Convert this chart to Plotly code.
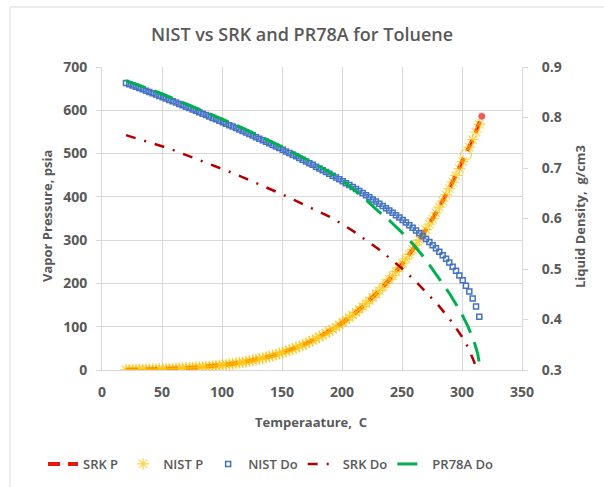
import plotly.graph_objects as go

# NIST saturated data for toluene (5 F steps, shown in C)
NIST_T = [20.0, 22.8, 25.6, 28.3, 31.1, 33.9, 36.7, 39.4, 42.2, 45.0,
          47.8, 50.6, 53.3, 56.1, 58.9, 61.7, 64.4, 67.2, 70.0, 72.8,
          75.6, 78.3, 81.1, 83.9, 86.7, 89.4, 92.2, 95.0, 97.8, 100.6,
          103.3, 106.1, 108.9, 111.7, 114.4, 117.2, 120.0, 122.8, 125.6, 128.3,
          131.1, 133.9, 136.7, 139.4, 142.2, 145.0, 147.8, 150.6, 153.3, 156.1,
          158.9, 161.7, 164.4, 167.2, 170.0, 172.8, 175.6, 178.3, 181.1, 183.9,
          186.7, 189.4, 192.2, 195.0, 197.8, 200.6, 203.3, 206.1, 208.9, 211.7,
          214.4, 217.2, 220.0, 222.8, 225.6, 228.3, 231.1, 233.9, 236.7, 239.4,
          242.2, 245.0, 247.8, 250.6, 253.3, 256.1, 258.9, 261.7, 264.4, 267.2,
          270.0, 272.8, 275.6, 278.3, 281.1, 283.9, 286.7, 289.4, 292.2, 295.0,
          297.8, 300.6, 303.3, 306.1, 308.9, 311.7, 314.4]
NIST_P = [0.59, 0.67, 0.76, 0.86, 0.97, 1.10, 1.23, 1.38, 1.55, 1.73,
          1.93, 2.15, 2.39, 2.65, 2.94, 3.25, 3.59, 3.95, 4.35, 4.78,
          5.24, 5.74, 6.28, 6.86, 7.48, 8.15, 8.86, 9.63, 10.45, 11.33,
          12.26, 13.26, 14.33, 15.46, 16.65, 17.93, 19.29, 20.72, 22.24, 23.84,
          25.54, 27.34, 29.23, 31.22, 33.32, 35.53, 37.86, 40.30, 42.86, 45.56,
          48.39, 51.35, 54.44, 57.69, 61.09, 64.65, 68.37, 72.24, 76.29, 80.5,
          84.9, 89.5, 94.2, 99.2, 104.3, 109.7, 115.3, 121.0, 127.0, 133.2,
          139.7, 146.4, 153.3, 160.4, 167.8, 175.5, 183.4, 191.6, 200.1, 208.8,
          217.8, 227.1, 236.7, 246.6, 256.7, 267.2, 278.0, 289.1, 300.6, 312.4,
          324.5, 337.0, 349.8, 362.9, 376.4, 390.3, 404.5, 419.1, 434.1, 449.4,
          465.2, 481.3, 497.8, 514.7, 532.0, 549.8, 567.8]
NIST_D = [0.8684, 0.8659, 0.8634, 0.8608, 0.8583, 0.8557, 0.8531, 0.8505, 0.8479, 0.8453,
          0.8427, 0.8401, 0.8374, 0.8348, 0.8321, 0.8295, 0.8268, 0.8241, 0.8214, 0.8186,
          0.8159, 0.8132, 0.8104, 0.8076, 0.8048, 0.8020, 0.7992, 0.7964, 0.7935, 0.7907,
          0.7878, 0.7849, 0.7820, 0.7791, 0.7761, 0.7732, 0.7702, 0.7672, 0.7642, 0.7611,
          0.7581, 0.7550, 0.7519, 0.7488, 0.7457, 0.7425, 0.7394, 0.7362, 0.7329, 0.7297,
          0.7264, 0.7231, 0.7198, 0.7164, 0.7130, 0.7096, 0.7062, 0.7027, 0.6992, 0.6957,
          0.6921, 0.6885, 0.6849, 0.6812, 0.6775, 0.6737, 0.6700, 0.6661, 0.6622, 0.6583,
          0.6543, 0.6503, 0.6462, 0.6421, 0.6378, 0.6336, 0.6293, 0.6249, 0.6204, 0.6159,
          0.6113, 0.6066, 0.6018, 0.5969, 0.5919, 0.5868, 0.5816, 0.5762, 0.5708, 0.5651,
          0.5594, 0.5534, 0.5472, 0.5409, 0.5343, 0.5274, 0.5202, 0.5127, 0.5047, 0.4963,
          0.4873, 0.4776, 0.4670, 0.4553, 0.4418, 0.4259, 0.4054]
NIST_HIGHLIGHT = 102  # point drawn with an open circle

# SRK vapour pressure
SRK_T = [20, 30, 40, 50, 60, 70, 80, 90, 100, 110, 120, 130, 140, 150, 160, 170,
         180, 190, 200, 210, 220, 230, 240, 250, 260, 270, 280, 290, 300, 310, 316.5]
SRK_P = [0.59, 0.93, 1.42, 2.11, 3.06, 4.35, 6.06, 8.29, 11.15, 14.77, 19.29, 24.85,
         31.63, 39.8, 49.6, 61.1, 74.6, 90.4, 108.6, 129.5, 153.3, 180.2, 210.6, 244.6,
         282.4, 324.5, 371.0, 422.1, 478.0, 539.0, 586.0]

# SRK liquid density
SRKD_T = [20, 30, 40, 50, 60, 70, 80, 90, 100, 110, 120, 130, 140, 150, 160, 170,
          180, 190, 200, 210, 220, 230, 240, 250, 260, 270, 280, 290, 300, 305, 310, 313]
SRK_D = [0.765, 0.758, 0.751, 0.743, 0.735, 0.726, 0.717, 0.708, 0.699, 0.689, 0.679,
         0.669, 0.659, 0.648, 0.637, 0.626, 0.614, 0.603, 0.589, 0.574, 0.557, 0.540,
         0.521, 0.501, 0.479, 0.455, 0.429, 0.400, 0.366, 0.345, 0.317, 0.295]

# PR78A liquid density
PR_T = [20, 30, 40, 50, 60, 70, 80, 90, 100, 110, 120, 130, 140, 150, 160, 170, 180,
        190, 200, 210, 220, 230, 240, 250, 260, 270, 280, 290, 300, 305, 310, 313, 315.5]
PR_D = [0.873, 0.865, 0.856, 0.847, 0.837, 0.828, 0.818, 0.808, 0.797, 0.787, 0.776,
        0.765, 0.754, 0.742, 0.730, 0.718, 0.705, 0.691, 0.676, 0.657, 0.637, 0.615,
        0.595, 0.572, 0.547, 0.518, 0.485, 0.450, 0.410, 0.386, 0.357, 0.333, 0.300]

X_TICKS = [0, 50, 100, 150, 200, 250, 300, 350]
Y1_TICKS = [0, 100, 200, 300, 400, 500, 600, 700]
Y2_TICKS = [0.3, 0.4, 0.5, 0.6, 0.7, 0.8, 0.9]

GRAY = "#595959"
GRID = "#d9d9d9"
FONT = "Open Sans"

fig = go.Figure()

srk_sizes = [0] * (len(SRK_T) - 1) + [8]
fig.add_trace(go.Scatter(
    x=SRK_T, y=SRK_P, name="SRK P", mode="lines+markers",
    line=dict(color="#E8160C", width=4, dash="12px,8px"),
    marker=dict(size=srk_sizes, color="#E8160C", symbol="circle"),
    yaxis="y"))

sym = ["asterisk-open"] * len(NIST_T)
sz = [10] * len(NIST_T)
sym[NIST_HIGHLIGHT] = "circle-open"
sz[NIST_HIGHLIGHT] = 11
fig.add_trace(go.Scatter(
    x=NIST_T, y=NIST_P, name="NIST P", mode="markers",
    marker=dict(symbol=sym, size=sz, color="#FFC000",
                line=dict(color="#FFC000", width=1.2)),
    yaxis="y"))

fig.add_trace(go.Scatter(
    x=NIST_T, y=NIST_D, name="NIST Do", mode="markers",
    marker=dict(symbol="square-open", size=5, color="#4472C4",
                line=dict(color="#4472C4", width=1.5)),
    yaxis="y2"))

fig.add_trace(go.Scatter(
    x=SRKD_T, y=SRK_D, name="SRK Do", mode="lines",
    line=dict(color="#B00000", width=2.5, dash="10px,9px,2px,9px"),
    yaxis="y2"))

fig.add_trace(go.Scatter(
    x=PR_T, y=PR_D, name="PR78A Do", mode="lines",
    line=dict(color="#00B050", width=3, dash="20px,10px"),
    yaxis="y2"))

tickfont = dict(family=FONT, size=14, color=GRAY, weight="bold")
titlefont = dict(family=FONT, size=13, color=GRAY, weight="bold")

fig.update_layout(
    width=604, height=487,
    margin=dict(l=102, r=82, t=67, b=117, autoexpand=False),
    paper_bgcolor="white", plot_bgcolor="white",
    font=dict(family=FONT, color=GRAY),
    title=dict(text="NIST vs SRK and PR78A for Toluene",
               x=0.5, xanchor="center", y=1 - 35 / 487, yanchor="middle",
               font=dict(family=FONT, size=18, color=GRAY, weight=600)),
    xaxis=dict(range=[0, 350], tickvals=X_TICKS, showgrid=True, gridcolor=GRID,
               gridwidth=1, zeroline=False, showline=True, linecolor=GRID,
               ticks="outside", ticklen=9, tickcolor="rgba(0,0,0,0)",
               tickfont=tickfont),
    yaxis=dict(range=[0, 700], tickvals=Y1_TICKS, showgrid=True, gridcolor=GRID,
               gridwidth=1, zeroline=False, showline=True, linecolor=GRID,
               ticks="outside", ticklen=5, tickcolor=GRID,
               ticklabelstandoff=6, tickfont=tickfont),
    yaxis2=dict(range=[0.3, 0.9], tickvals=Y2_TICKS, tickformat=".1f",
                overlaying="y", side="right", showgrid=False, zeroline=False,
                showline=True, linecolor=GRID, ticks="outside", ticklen=5,
                tickcolor=GRID, ticklabelstandoff=11, tickfont=tickfont),
    legend=dict(orientation="h", x=(43 - 102) / 420, xanchor="left",
                y=(370 - 464) / 303, yanchor="middle",
                font=dict(family=FONT, size=13, color=GRAY, weight=600),
                itemwidth=30, tracegroupgap=0, bgcolor="rgba(0,0,0,0)"),
    showlegend=True,
)

fig.add_annotation(text="Vapor Pressure, psia", xref="paper", yref="paper",
                   x=(47 - 102) / 420, y=(370 - 216) / 303, textangle=-90,
                   showarrow=False, font=titlefont, xanchor="center", yanchor="middle")
fig.add_annotation(text="Liquid Density,  g/cm3", xref="paper", yref="paper",
                   x=(580 - 102) / 420, y=(370 - 217) / 303, textangle=-90,
                   showarrow=False, font=titlefont, xanchor="center", yanchor="middle")
fig.add_annotation(text="Temperaature,  C", xref="paper", yref="paper",
                   x=(311 - 102) / 420, y=(370 - 422) / 303,
                   showarrow=False, font=titlefont, xanchor="center", yanchor="middle")

# chart-area border
fig.add_shape(type="rect", xref="paper", yref="paper",
              x0=(10 - 102) / 420, x1=(640 - 102) / 420,
              y0=(370 - 520) / 303, y1=(370 - 7) / 303,
              line=dict(color=GRID, width=1), fillcolor="rgba(0,0,0,0)", layer="below")

fig.write_html("out.html")
